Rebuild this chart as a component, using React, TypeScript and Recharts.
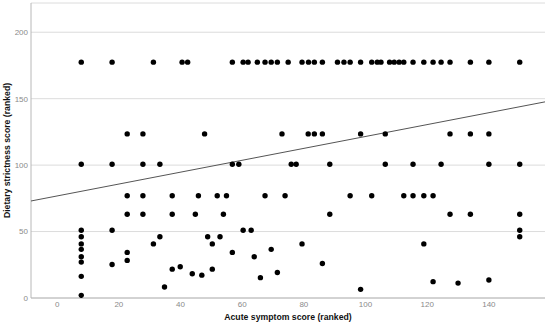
import {
  ScatterChart,
  Scatter,
  XAxis,
  YAxis,
  CartesianGrid,
  Label,
} from 'recharts'

// acute symptom score (ranked) — x of each subject
const acuteRank = [
  // row ~177.5
  7.8, 17.8, 31.2, 40.5, 42.3, 56.8, 60.3, 61.9, 64.9, 67.4, 69.4, 71.4, 74.9,
  79.4, 81.5, 83.4, 86, 90.9, 93, 95, 98.4, 102, 103.8, 105, 107.8, 109.3,
  110.9, 112.4, 115.4, 118.9, 121.9, 124.5, 127.4, 134, 140, 150,
  // row ~123.5
  22.7, 27.8, 47.8, 72.9, 81.4, 83.4, 86, 98.4, 106.4, 127.4, 134, 140,
  // row ~100.5
  7.8, 17.8, 27.8, 33.3, 56.8, 58.9, 75.9, 77.5, 88.4, 106.4, 115.4, 124.5,
  140, 150,
  // row ~77
  22.7, 27.8, 37.3, 45.8, 51.9, 54.9, 67.4, 73.9, 95, 102, 112.4, 115.4,
  118.9, 121.9,
  // row ~63
  22.7, 27.8, 37.3, 44.8, 53.9, 88.4, 127.4, 134, 150,
  // lower values
  7.8, 17.8, 60.3, 62.9, 150,
  7.8, 33.3, 48.8, 52.8, 150,
  7.8, 31.2, 50.3, 79.4, 118.9,
  7.8, 69.4,
  22.7, 56.8,
  7.8, 63.9,
  22.7, 7.8, 86, 17.8, 39.9, 37.3, 50.3, 71.4, 43.8, 46.9, 7.8, 65.9, 140,
  121.9, 130, 34.8, 98.4, 7.8,
]

// dietary strictness score (ranked) — y of each subject
const dietRank = [
  ...Array(36).fill(177.5),
  ...Array(12).fill(123.5),
  ...Array(14).fill(100.7),
  ...Array(14).fill(77),
  ...Array(9).fill(63),
  51, 51, 51, 51, 51,
  46.1, 46.1, 46.1, 46.1, 46.1,
  40.7, 40.7, 40.7, 40.7, 40.7,
  36.6, 36.6,
  34.3, 34.3,
  31, 31,
  28.3, 27, 26, 25.2, 23.5, 21.7, 21.7, 19.2, 18.2, 17.2, 16.3, 15.3, 13.5,
  12.3, 11.2, 8.3, 6.5, 2,
]

// fit line (ends at the plot edges)
const fitX = [-8.5, 158.2]
const fitY = [73, 147.6]

const xTicks = [0, 20, 40, 60, 80, 100, 120, 140]
const yTicks = [0, 50, 100, 150, 200]

const points = acuteRank.map((x, i) => ({ x, y: dietRank[i] }))
const fitLine = fitX.map((x, i) => ({ x, y: fitY[i] }))

const font = '"Liberation Sans", Arial, sans-serif'
const tickStyle = { fontSize: 8, fill: '#8a8a8a', fontFamily: font }
const titleStyle = { fontSize: 8.7, fontWeight: 'bold' as const, fill: '#111', fontFamily: font }

function XTitle(props: any) {
  const vb = props.viewBox
  return (
    <text x={vb.x + vb.width / 2} y={vb.y + 22} textAnchor="middle" style={titleStyle}>
      Acute symptom score (ranked)
    </text>
  )
}

function YTitle(props: any) {
  const vb = props.viewBox
  const cy = vb.y + vb.height / 2
  return (
    <text
      transform={`translate(10, ${cy}) rotate(-90)`}
      textAnchor="middle"
      style={titleStyle}
    >
      Dietary strictness score (ranked)
    </text>
  )
}

export default function App() {
  return (
    <div
      style={{
        position: 'absolute',
        left: 0,
        top: 0,
        background: '#fff',
        width: 550,
        height: 326,
      }}
    >
      <ScatterChart
        width={550}
        height={326}
        margin={{ top: 3, right: 5, bottom: 0, left: 0 }}
        style={{ overflow: 'visible' }}
      >
        <CartesianGrid vertical={false} stroke="#dcdcdc" strokeWidth={1} />
        <XAxis
          type="number"
          dataKey="x"
          domain={[-8.5, 158.2]}
          ticks={xTicks}
          allowDataOverflow
          height={28}
          tickLine={false}
          tickSize={0}
          tickMargin={3}
          axisLine={{ stroke: '#b8b8b8' }}
          tick={tickStyle}
        >
          <Label content={<XTitle />} />
        </XAxis>
        <YAxis
          type="number"
          dataKey="y"
          domain={[0, 222]}
          ticks={yTicks}
          allowDataOverflow
          width={31}
          tickLine={false}
          tickSize={0}
          tickMargin={3}
          axisLine={{ stroke: '#b8b8b8' }}
          tick={tickStyle}
        >
          <Label content={<YTitle />} />
        </YAxis>
        <Scatter
          data={fitLine}
          line={{ stroke: '#555', strokeWidth: 1 }}
          shape={() => <g />}
          isAnimationActive={false}
        />
        <Scatter
          data={points}
          fill="#000"
          shape={(p: any) => <circle cx={p.cx} cy={p.cy} r={2.7} fill="#000" />}
          isAnimationActive={false}
        />
      </ScatterChart>
    </div>
  )
}
